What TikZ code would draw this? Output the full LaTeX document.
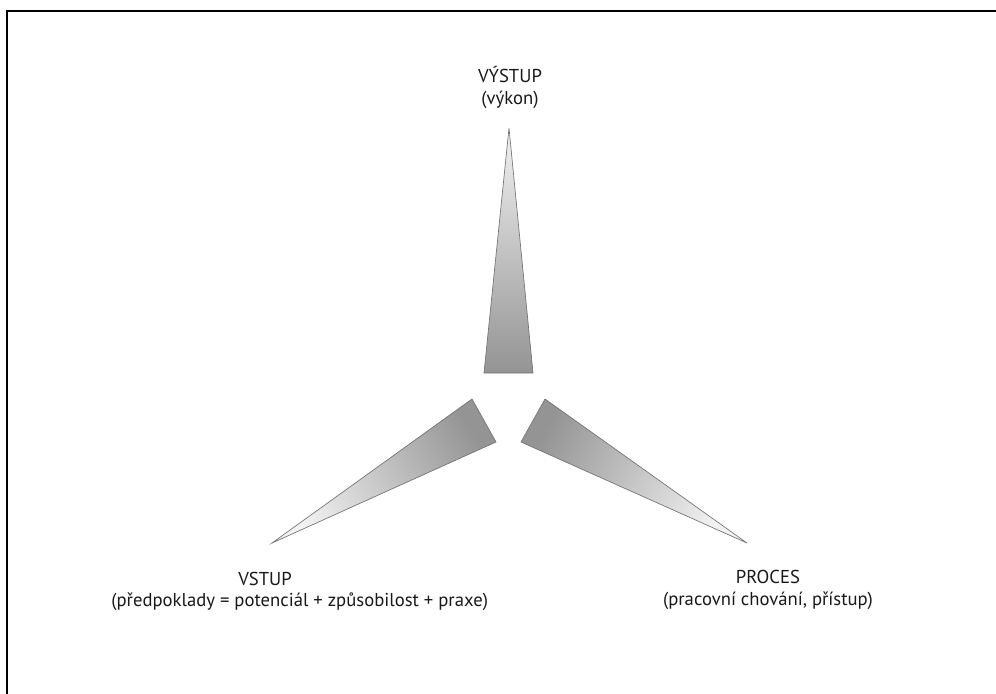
\documentclass[tikz,border=0pt]{standalone}
\usepackage{fontspec}
\setmainfont{PT Sans}
\usetikzlibrary{positioning}
\tikzset{
	wedge/.style={draw=black!55, line width=0.5pt, shading=axis, top color=black!5, bottom color=black!42},
	capt/.style={align=center, inner sep=0pt, font=\fontsize{14}{16.5}\selectfont, text=black!90},
}
\begin{document}
\begin{tikzpicture}[x=0.75pt,y=-0.75pt]
		\useasboundingbox (0,0) rectangle (996,693);
		\draw [line width=0.8pt] (7,700)--(7,11)--(1000,11);
		% wedges
		\draw [wedge] (509,128)--(533,373)--(484,373)--cycle;
		\draw [wedge, shading angle=120] (272,543)--(472,399)--(496,442)--cycle;
		\draw [wedge, shading angle=-120] (747,543)--(545,399)--(521,442)--cycle;
		% labels
		\node[capt] (vystup) at (510,87) {VÝSTUP\\(výkon)};
		\node[capt] (vstuphead) at (265,579) {VSTUP};
		\node[capt, below=5pt of vstuphead.south, xshift=26pt] (vstup) {(předpoklady = potenciál + způsobilost + praxe)};
		\node[capt] (proces) at (768,590) {PROCES\\(pracovní chování, přístup)};
	\end{tikzpicture}
\end{document}
